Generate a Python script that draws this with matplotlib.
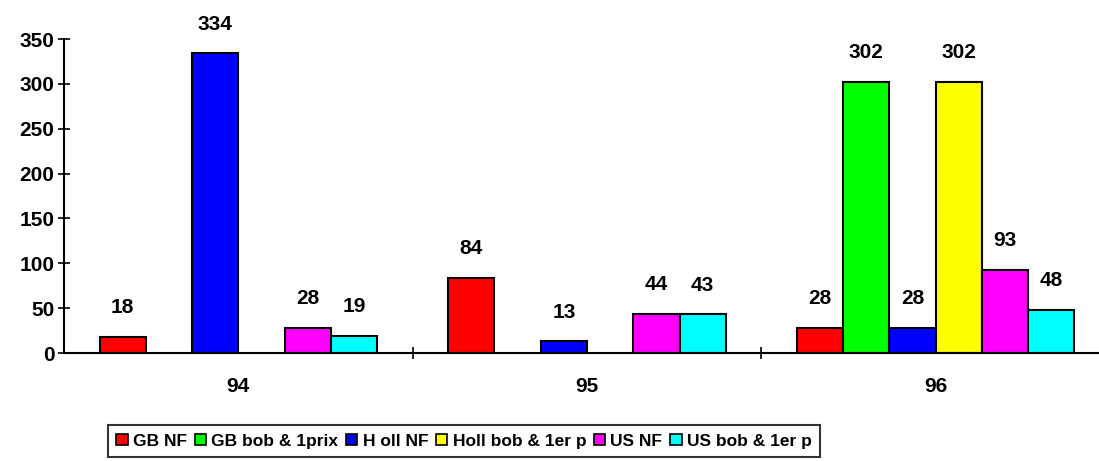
import numpy as np
from matplotlib import pyplot as plt
from matplotlib.patches import Patch

plt.rcParams['font.family'] = ['Liberation Sans', 'DejaVu Sans']
plt.rcParams['font.weight'] = 'bold'

years = ['94', '95', '96']
series_names = ['GB NF', 'GB bob & 1prix', 'H oll NF', 'Holl bob & 1er p', 'US NF', 'US bob & 1er p']
colors = ['#ff0000', '#00ff00', '#0000ff', '#ffff00', '#ff00ff', '#00ffff']
# None = no bar for that year
gb_nf = [18, 84, 28]
gb_bob = [None, None, 302]
holl_nf = [334, 13, 28]
holl_bob = [None, None, 302]
us_nf = [28, 44, 93]
us_bob = [19, 43, 48]
all_series = [gb_nf, gb_bob, holl_nf, holl_bob, us_nf, us_bob]

fig = plt.figure(figsize=(10.99, 4.61), dpi=100)
ax = fig.add_axes([64 / 1099, 108 / 461, (1110 - 64) / 1099, 314 / 461])

width = 0.1327
x = np.arange(len(years))
for i, (vals, col) in enumerate(zip(all_series, colors)):
    offs = (i - 2.5) * width
    for xi, v in zip(x, vals):
        if v is None:
            continue
        ax.bar(xi + offs, v, width, color=col, edgecolor='black', linewidth=1.5)
        ax.annotate(str(v), (xi + offs, v), xytext=(0, 21),
                    textcoords='offset points', ha='center', va='center',
                    fontsize=15, fontweight='bold', annotation_clip=False)

ax.set_xlim(-0.5, 2.5)
ax.set_ylim(0, 350)
ax.set_yticks(range(0, 351, 50))
ax.set_xticks([0.5, 1.5])
ax.set_xticklabels([])
ax.set_xticks(x, minor=True)
ax.set_xticklabels(years, minor=True)
ax.tick_params(axis='x', which='minor', length=0, pad=17, labelsize=15)
ax.tick_params(axis='x', which='major', direction='inout', length=8, width=1.2)
ax.tick_params(axis='y', direction='inout', length=8, width=1.2, labelsize=15, pad=3)
for s in ['top', 'right']:
    ax.spines[s].set_visible(False)
ax.spines['left'].set_linewidth(1.5)
ax.spines['bottom'].set_linewidth(1.5)

handles = [Patch(facecolor=c, edgecolor='black', linewidth=1.2) for c in colors]
leg = fig.legend(handles, series_names, loc='center', bbox_to_anchor=(464 / 1099, 1 - 441 / 461),
                 ncol=6, prop={'weight': 'bold', 'size': 12.5},
                 frameon=True, fancybox=False, edgecolor='black',
                 handlelength=0.65, handleheight=0.65, handletextpad=0.3,
                 columnspacing=0.45, borderpad=0.5, borderaxespad=0)
leg.get_frame().set_linewidth(1.5)

fig.savefig('out.png', dpi=100)
